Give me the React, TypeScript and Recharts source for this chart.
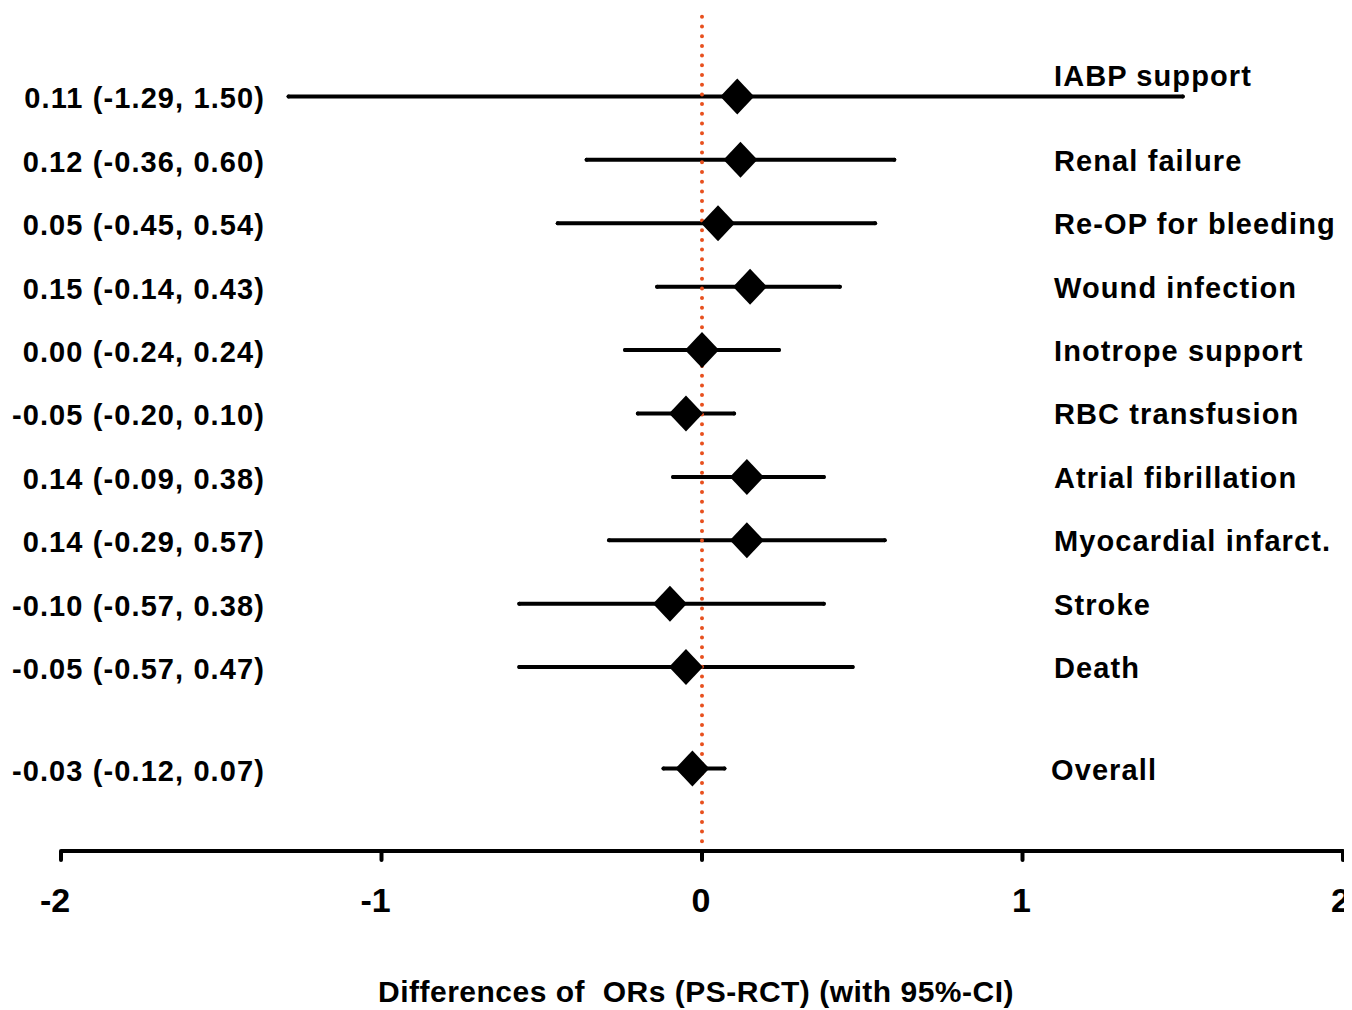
import { ScatterChart, Scatter, XAxis, YAxis, ErrorBar, ReferenceLine, Label } from 'recharts';

const OUTCOMES = [
    'IABP support',
    'Renal failure',
    'Re-OP for bleeding',
    'Wound infection',
    'Inotrope support',
    'RBC transfusion',
    'Atrial fibrillation',
    'Myocardial infarct.',
    'Stroke',
    'Death',
    'Overall',
];
const ESTIMATE = [0.11, 0.12, 0.05, 0.15, 0.0, -0.05, 0.14, 0.14, -0.1, -0.05, -0.03];
const LOWER = [-1.29, -0.36, -0.45, -0.14, -0.24, -0.2, -0.09, -0.29, -0.57, -0.57, -0.12];
const UPPER = [1.5, 0.6, 0.54, 0.43, 0.24, 0.1, 0.38, 0.57, 0.38, 0.47, 0.07];
// row slot of each outcome (overall sits a bit apart from the rest)
const ROW = [0, 1, 2, 3, 4, 5, 6, 7, 8, 9, 10.6];
const X_TICKS = [-2, -1, 0, 1, 2];

const FONT = '"Liberation Sans", Arial, sans-serif';

const data = OUTCOMES.map((name, i) => ({
    name,
    est: ESTIMATE[i],
    row: ROW[i],
    err: [ESTIMATE[i] - LOWER[i], UPPER[i] - ESTIMATE[i]],
    text: `${ESTIMATE[i].toFixed(2)} (${LOWER[i].toFixed(2)}, ${UPPER[i].toFixed(2)})`,
}));

const Diamond = (props: any) => {
    const { cx, cy } = props;
    if (cx == null || cy == null) return null;
    return <polygon points={`${cx},${cy - 18} ${cx + 17},${cy} ${cx},${cy + 18} ${cx - 17},${cy}`} fill="#000" />;
};

const RowTick = (props: any) => {
    const { y, payload } = props;
    const i = ROW.findIndex((r) => Math.abs(r - payload.value) < 1e-6);
    if (i < 0) return null;
    const d = data[i];
    return (
        <g fontFamily={FONT} fontWeight="bold" fontSize={29} fill="#000" letterSpacing={1.1}>
            <text x={265} y={y + 2} textAnchor="end" dominantBaseline="central">{d.text}</text>
            <text x={i === OUTCOMES.length - 1 ? 1051 : 1054} y={i === 0 ? y - 20 : y + 1} textAnchor="start" dominantBaseline="central">
                {d.name}
            </text>
        </g>
    );
};

// digits sit on the tick, the minus sign hangs to the left; the last one is pulled in from the edge
const ValueTick = (props: any) => {
    const { x, y, payload } = props;
    const v = payload.value;
    const last = v === X_TICKS[X_TICKS.length - 1];
    return (
        <text
            x={last ? x + 7 : x + (v < 0 ? -6 : -1)}
            y={y}
            dy="0.71em"
            textAnchor={last ? 'end' : 'middle'}
            fontFamily={FONT}
            fontWeight="bold"
            fontSize={34}
            fill="#000"
        >
            {v}
        </text>
    );
};

export default function App() {
    return (
        <div style={{ width: 1352, height: 1010, margin: '-8px 0 0 -8px', background: '#fff' }}>
            <style>{'body{overflow:hidden}'}</style>
            <ScatterChart width={1352} height={1010} margin={{ top: 14, right: 9, bottom: 0, left: 60 }}>
                <XAxis
                    type="number"
                    dataKey="est"
                    domain={[-2, 2]}
                    ticks={X_TICKS}
                    interval={0}
                    height={159}
                    axisLine={{ stroke: '#000', strokeWidth: 4 }}
                    tickLine={{ stroke: '#000', strokeWidth: 4, strokeLinecap: 'round' }}
                    tickSize={9}
                    tickMargin={28}
                    tick={(p: any) => <ValueTick {...p} />}
                >
                    <Label
                        value={'Differences of\u00A0 ORs (PS-RCT) (with 95%-CI)'}
                        position="insideBottom"
                        offset={8}
                        dx={-6}
                        style={{ fill: '#000', fontSize: 30, fontWeight: 'bold', fontFamily: FONT, letterSpacing: 0.5 }}
                    />
                </XAxis>
                <YAxis
                    type="number"
                    dataKey="row"
                    domain={[-1.3, 11.9]}
                    reversed
                    ticks={ROW}
                    interval={0}
                    width={1}
                    axisLine={false}
                    tickLine={false}
                    tick={(p: any) => <RowTick {...p} />}
                />
                <Scatter data={data} shape={<Diamond />} isAnimationActive={false}>
                    <ErrorBar dataKey="err" direction="x" width={0} stroke="#000" strokeWidth={4} strokeLinecap="round" />
                </Scatter>
                <ReferenceLine x={0} stroke="#e8501e" strokeWidth={4} strokeDasharray="0 9.7" strokeLinecap="round" />
            </ScatterChart>
        </div>
    );
}
